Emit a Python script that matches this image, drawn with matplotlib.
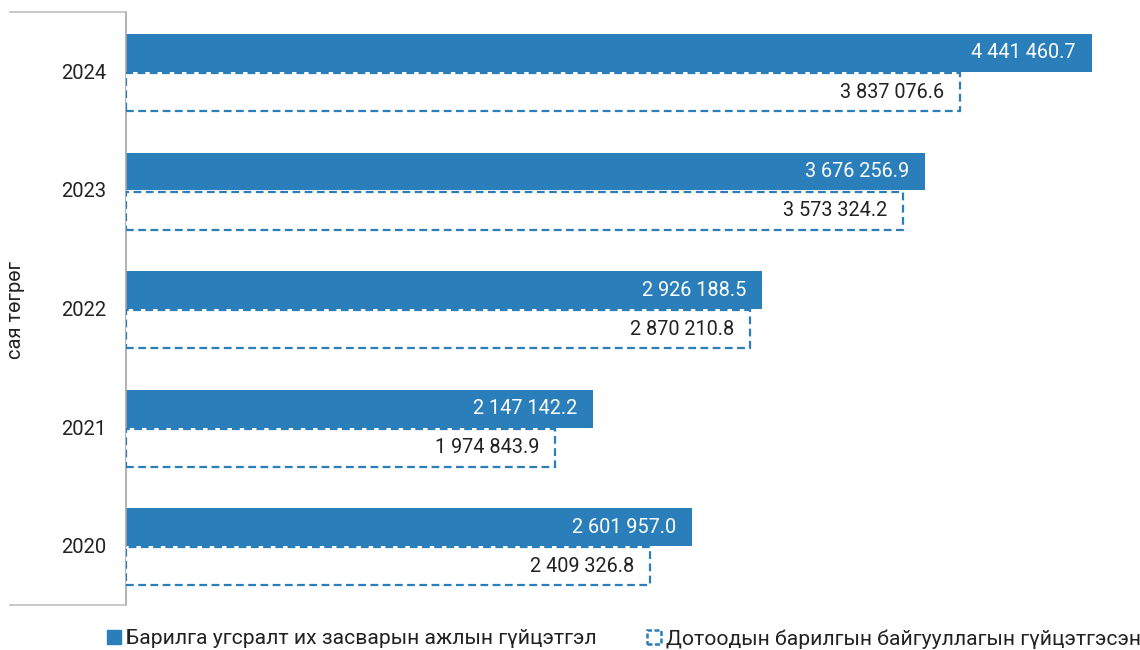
import matplotlib
matplotlib.use("Agg")
import matplotlib.pyplot as plt
from matplotlib.patches import Patch
from matplotlib.lines import Line2D

plt.rcParams['font.family'] = ['Roboto', 'DejaVu Sans']

years = ["2020", "2021", "2022", "2023", "2024"]
series1_name = "Барилга угсралт их засварын ажлын гүйцэтгэл"
series2_name = "Дотоодын барилгын байгууллагын гүйцэтгэсэн"
series1 = [2601957.0, 2147142.2, 2926188.5, 3676256.9, 4441460.7]
series2 = [2409326.8, 1974843.9, 2870210.8, 3573324.2, 3837076.6]
y_title = "сая төгрөг"

BLUE = "#2A7FBA"
TXT = "#222222"
W, H = 1140, 650
fig = plt.figure(figsize=(W / 100, H / 100), dpi=100)
ax = fig.add_axes([126 / W, 45 / H, 1011 / W, 593 / H])

idx = list(range(len(years)))
bh = 0.32
b1 = ax.barh([i + 0.155 for i in idx], series1, height=bh, color=BLUE, zorder=2)
b2 = ax.barh([i - 0.175 for i in idx], series2, height=bh, facecolor="white",
             edgecolor=BLUE, linewidth=1.6, linestyle=(0, (3.5, 2)), zorder=3)

def fmt(v):
    return f"{v:,.1f}".replace(",", " ")

for rect, v in zip(b1, series1):
    ax.annotate(fmt(v), (v, rect.get_y() + rect.get_height() / 2), xytext=(-16, 0),
                textcoords="offset pixels",
                ha="right", va="center", color="white", fontsize=14.3)
for rect, v in zip(b2, series2):
    ax.annotate(fmt(v), (v, rect.get_y() + rect.get_height() / 2), xytext=(-16, 0),
                textcoords="offset pixels",
                ha="right", va="center", color=TXT, fontsize=14.3)

ax.set_xlim(0, 4.65e6)
ax.set_ylim(-0.5, 4.5)
ax.set_yticks(idx)
ax.set_yticklabels(years, fontsize=14.5, color=TXT)
ax.tick_params(axis="y", length=0, pad=14)
ax.set_xticks([])
for s in ["top", "right", "bottom"]:
    ax.spines[s].set_visible(False)
ax.spines["left"].set_color("#A6A6A6")
ax.spines["left"].set_linewidth(1.2)

# category-axis frame lines extending to the left
fig.add_artist(Line2D([10 / W, 126 / W], [1 - 12 / H, 1 - 12 / H], color="#BFBFBF", lw=1.2))
fig.add_artist(Line2D([10 / W, 126 / W], [45 / H, 45 / H], color="#BFBFBF", lw=1.2))
fig.text(16 / W, 1 - 310 / H, y_title, rotation=90, ha="center", va="center",
         fontsize=14.5, color=TXT)

h1 = Patch(facecolor=BLUE, edgecolor=BLUE)
h2 = Patch(facecolor="white", edgecolor=BLUE, linestyle=(0, (2, 1)), linewidth=1.8)
common = dict(loc="center left", frameon=False, handlelength=0.65, handleheight=0.65,
              handletextpad=0.25, borderpad=0, borderaxespad=0,
              prop={"size": 15.2}, labelcolor=TXT)
fig.legend([h1], [series1_name], bbox_to_anchor=(107 / W, 11 / H), **common)
fig.legend([h2], [series2_name], bbox_to_anchor=(647 / W, 11 / H), **common)

fig.savefig("out.png", dpi=100)
